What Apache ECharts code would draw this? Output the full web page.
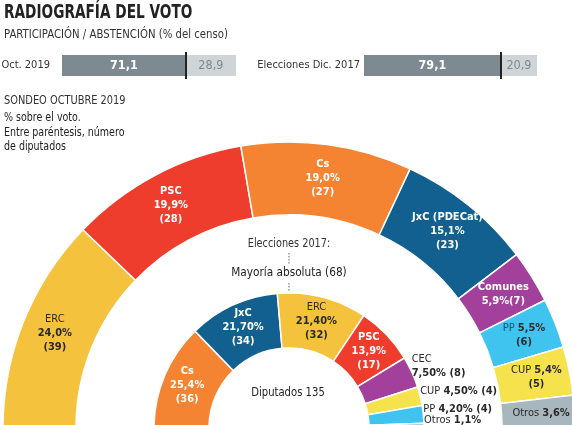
<!DOCTYPE html>
<html>
<head>
<meta charset="utf-8">
<script src="https://cdn.jsdelivr.net/npm/echarts@6/dist/echarts.min.js"></script>
<style>
html,body{margin:0;padding:0;background:#fff;}
#c{width:572px;height:425px;}
</style>
</head>
<body>
<div id="c"></div>
<script>
// ---- data ----
var barCats = ['Oct. 2019', 'Elecciones Dic. 2017'];
var participacion = [71.1, 79.1];
var abstencion = [28.9, 20.9];

var outerNames = ['ERC', 'PSC', 'Cs', 'JxC (PDECat)', 'Comunes', 'PP', 'CUP', 'Otros'];
var outerPct = [24.0, 19.9, 19.0, 15.1, 5.9, 5.5, 5.4, 3.6];
var outerPctText = ['24,0%', '19,9%', '19,0%', '15,1%', '5,9%', '5,5%', '5,4%', '3,6%'];
var outerSeats = [39, 28, 27, 23, 7, 6, 5, null];

var innerNames = ['Cs', 'JxC', 'ERC', 'PSC', 'CEC', 'CUP', 'PP', 'Otros'];
var innerPct = [25.4, 21.7, 21.4, 13.9, 7.5, 4.5, 4.2, 1.1];
var innerPctText = ['25,4%', '21,70%', '21,40%', '13,9%', '7,50%', '4,50%', '4,20%', '1,1%'];
var innerSeats = [36, 34, 32, 17, 8, 4, 4, null];

// ---- styles ----
var FONT = '"DejaVu Sans Condensed","Liberation Sans Narrow",sans-serif';
var partyColor = {
  'ERC': '#F4C23C', 'PSC': '#EE3D2C', 'Cs': '#F58432', 'JxC (PDECat)': '#12608F', 'JxC': '#12608F',
  'Comunes': '#A2409C', 'CEC': '#A2409C', 'PP': '#3EC4EE', 'CUP': '#F6E24C', 'Otros': '#A8B7BD'
};
var DARK = '#2a2a2a';

var rich = {
  w: {color: '#fff', fontWeight: 'bold', fontSize: 11, lineHeight: 14, fontFamily: FONT},
  dn: {color: DARK, fontWeight: 'normal', fontSize: 11, lineHeight: 14, fontFamily: FONT},
  db: {color: DARK, fontWeight: 'bold', fontSize: 11, lineHeight: 14, fontFamily: FONT},
  pn: {color: '#1d4f7a', fontWeight: 'normal', fontSize: 11, lineHeight: 14, fontFamily: FONT}
};

function outerLabel(i) {
  var n = outerNames[i], p = outerPctText[i], s = outerSeats[i];
  if (n === 'ERC') return '{dn|' + n + '}\n{db|' + p + '}\n{db|(' + s + ')}';
  if (n === 'Comunes') return '{w|' + n + '}\n{w|' + p + '(' + s + ')}';
  if (n === 'PP') return '{pn|' + n + ' }{db|' + p + '}\n{db|(' + s + ')}';
  if (n === 'CUP') return '{dn|' + n + ' }{db|' + p + '}\n{db|(' + s + ')}';
  if (n === 'Otros') return '{dn|' + n + ' }{db|' + p + '}';
  return '{w|' + n + '}\n{w|' + p + '}\n{w|(' + s + ')}';
}
function innerLabel(i) {
  var n = innerNames[i], p = innerPctText[i], s = innerSeats[i];
  if (n === 'ERC') return '{dn|' + n + '}\n{db|' + p + '}\n{db|(' + s + ')}';
  if (n === 'CEC') return '{dn|' + n + '}\n{db|' + p + ' (' + s + ')}';
  if (n === 'CUP' || n === 'PP') return '{dn|' + n + ' }{db|' + p + ' (' + s + ')}';
  if (n === 'Otros') return '{dn|' + n + ' }{db|' + p + '}';
  return '{w|' + n + '}\n{w|' + p + '}\n{w|(' + s + ')}';
}

var outerData = outerNames.map(function (n, i) {
  return {name: n, value: outerPct[i], itemStyle: {color: partyColor[n]},
    label: {formatter: outerLabel(i)}};
});
var innerData = innerNames.map(function (n, i) {
  var d = {name: n, value: innerPct[i], itemStyle: {color: partyColor[n]},
    label: {formatter: innerLabel(i)}};
  if (i >= 4) {
    d.label.position = 'outside';
    d.label.align = 'left';
    d.labelLine = {show: false, length: 2, length2: 0};
  }
  return d;
});

function fmt(v) { return v.toFixed(1).replace('.', ','); }

function barSeries(idx) {
  return [
    {type: 'bar', xAxisIndex: idx, yAxisIndex: idx, stack: 's' + idx, barWidth: 21,
     data: [participacion[idx]], itemStyle: {color: '#7E8A91'},
     label: {show: true, position: 'inside', color: '#fff', fontWeight: 'bold', fontSize: 12.5, fontFamily: FONT,
       formatter: function (p) { return fmt(p.value); }},
     markLine: {silent: true, symbol: ['none', 'none'], label: {show: false},
       lineStyle: {color: '#222', width: 2, type: 'solid'},
       data: [{xAxis: participacion[idx]}]}},
    {type: 'bar', xAxisIndex: idx, yAxisIndex: idx, stack: 's' + idx, barWidth: 21,
     data: [abstencion[idx]], itemStyle: {color: '#CFD4D7'},
     label: {show: true, position: 'inside', color: '#7d8a92', fontSize: 12.5, fontFamily: FONT,
       formatter: function (p) { return fmt(p.value); }}}
  ];
}

var chart = echarts.init(document.getElementById('c'));
var option = {
  backgroundColor: '#fff',
  animation: false,
  textStyle: {fontFamily: FONT},
  grid: [
    {left: 62, top: 52, width: 174, height: 27, outerBoundsMode: 'none', containLabel: false},
    {left: 364, top: 52, width: 173, height: 27, outerBoundsMode: 'none', containLabel: false}
  ],
  xAxis: [
    {gridIndex: 0, type: 'value', min: 0, max: 100, show: false},
    {gridIndex: 1, type: 'value', min: 0, max: 100, show: false}
  ],
  yAxis: [
    {gridIndex: 0, type: 'category', data: [barCats[0]], axisLine: {show: false}, axisTick: {show: false},
     axisLabel: {margin: 12, color: '#333', fontSize: 11, fontFamily: FONT}},
    {gridIndex: 1, type: 'category', data: [barCats[1]], axisLine: {show: false}, axisTick: {show: false},
     axisLabel: {margin: 4, color: '#333', fontSize: 11, fontFamily: FONT}}
  ],
  series: barSeries(0).concat(barSeries(1)).concat([
    {type: 'pie', name: 'outer', center: [289, 428], radius: [213, 286],
     startAngle: 180, endAngle: 0, silent: true,
     itemStyle: {borderColor: '#fff', borderWidth: 1.5},
     label: {show: true, position: 'inside', rich: rich, align: 'center', lineHeight: 14},
     labelLine: {show: false},
     labelLayout: {hideOverlap: false},
     data: outerData},
    {type: 'pie', name: 'inner', center: [289, 428], radius: [80, 135],
     startAngle: 180, endAngle: 0, silent: true, avoidLabelOverlap: false,
     itemStyle: {borderColor: '#fff', borderWidth: 1.5},
     label: {show: true, position: 'inside', rich: rich, align: 'center', lineHeight: 14},
     labelLine: {show: false},
     labelLayout: function (p) {
       return p.dataIndex >= 4 ? {hideOverlap: false, dx: -7, dy: -5} : {hideOverlap: false};
     },
     data: innerData}
  ]),
  graphic: [
    {type: 'text', left: 4, top: 4, scaleX: 0.8, style: {text: 'RADIOGRAFÍA DEL VOTO', fill: '#222', font: 'bold 19px ' + FONT}},
    {type: 'text', left: 4, top: 29, scaleX: 0.94, style: {text: 'PARTICIPACIÓN / ABSTENCIÓN (% del censo)', fill: '#333', font: '12px ' + FONT}},
    {type: 'text', left: 4, top: 95, scaleX: 0.91, style: {text: 'SONDEO OCTUBRE 2019', fill: '#333', font: '12px ' + FONT}},
    {type: 'text', left: 4, top: 111, scaleX: 0.88, style: {text: '% sobre el voto.\nEntre paréntesis, número\nde diputados', fill: '#222', font: '12px ' + FONT, lineHeight: 14.5}},
    {type: 'text', x: 289, y: 244, scaleX: 0.9, style: {text: 'Elecciones 2017:', fill: '#333', font: '12px ' + FONT, align: 'center', verticalAlign: 'middle'}},
    {type: 'line', shape: {x1: 289, y1: 253, x2: 289, y2: 264}, style: {stroke: '#666', lineWidth: 1, lineDash: [1.5, 1.5]}},
    {type: 'text', x: 289, y: 273, scaleX: 0.9, style: {text: 'Mayoría absoluta (68)', fill: '#222', font: '13px ' + FONT, align: 'center', verticalAlign: 'middle'}},
    {type: 'line', shape: {x1: 289, y1: 283, x2: 289, y2: 292}, style: {stroke: '#666', lineWidth: 1, lineDash: [1.5, 1.5]}},
    {type: 'text', x: 288, y: 393, scaleX: 0.86, style: {text: 'Diputados 135', fill: '#222', font: '13px ' + FONT, align: 'center', verticalAlign: 'middle'}}
  ]
};
chart.setOption(option);
</script>
</body>
</html>
